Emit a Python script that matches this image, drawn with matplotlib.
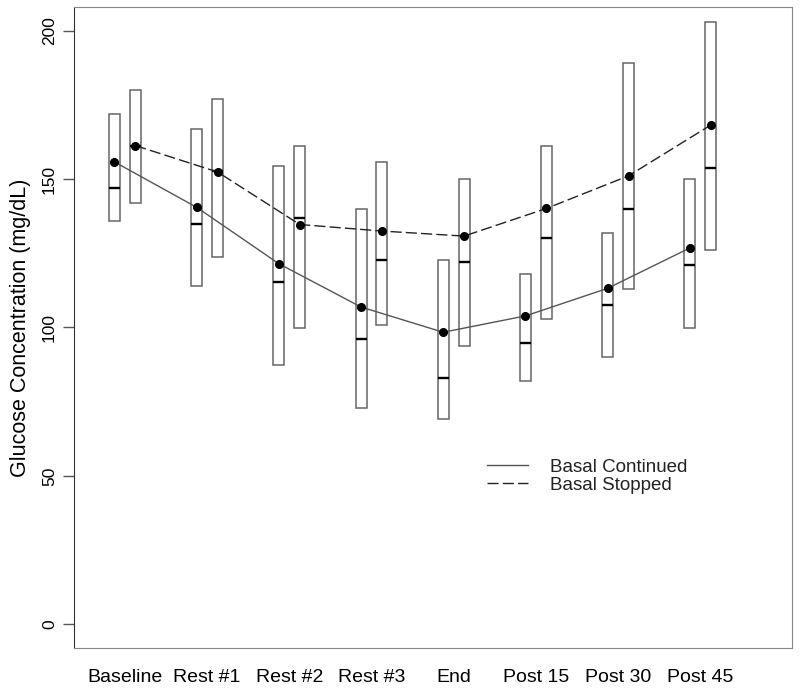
import numpy as np
import matplotlib
matplotlib.use("Agg")
import matplotlib.pyplot as plt

plt.rcParams['font.family'] = ['Liberation Sans', 'DejaVu Sans']

timepoints = ["Baseline", "Rest #1", "Rest #2", "Rest #3", "End", "Post 15", "Post 30", "Post 45"]

# basal continued
cont_high = [172.0, 167.0, 154.5, 140.0, 122.8, 118.0, 132.0, 150.0]
cont_low = [135.9, 114.1, 87.4, 73.0, 69.1, 82.0, 89.9, 99.9]
cont_median = [147.1, 135.0, 115.4, 96.1, 82.9, 94.9, 107.5, 121.0]
cont_mean = [155.8, 140.5, 121.5, 106.9, 98.4, 103.9, 113.2, 126.8]

# basal stopped
stop_high = [179.9, 177.0, 161.0, 155.9, 150.0, 161.0, 189.0, 203.0]
stop_low = [141.9, 123.9, 99.9, 100.9, 93.9, 102.9, 112.9, 126.0]
stop_median = [161.0, 152.9, 137.0, 122.9, 122.0, 130.0, 139.9, 153.9]
stop_mean = [161.3, 152.4, 134.7, 132.5, 130.8, 140.1, 151.1, 168.2]

x = np.arange(1, len(timepoints) + 1)
off = 0.127
bw = 0.134

fig = plt.figure(figsize=(8, 6.91), dpi=100)
ax = fig.add_axes([0.0921, 0.0622, 0.99 - 0.0921, 0.9899 - 0.0622])

def draw_group(pos, low, high, med, mean, ls, col, lab):
    low = np.array(low)
    high = np.array(high)
    ax.bar(pos, high - low, width=bw, bottom=low, fill=False,
           edgecolor='#666666', linewidth=1.1, zorder=2)
    ax.hlines(med, pos - bw / 2, pos + bw / 2, colors='black', linewidth=1.7, zorder=3)
    ax.plot(pos, mean, linestyle=ls, color=col, linewidth=1, label=lab, zorder=3)
    ax.plot(pos, mean, 'o', color='black', markersize=5.5, zorder=4)

draw_group(x - off, cont_low, cont_high, cont_median, cont_mean, '-', '#555555', 'Basal Continued')
draw_group(x + off, stop_low, stop_high, stop_median, stop_mean, (0, (8, 3)), '#222222', 'Basal Stopped')

ax.set_xlim(0.377, 9.116)
ax.set_ylim(-8, 208)
ax.set_xticks(x)
ax.set_xticklabels(timepoints, fontsize=14)
ax.tick_params(axis='x', length=0, pad=15)
ax.set_yticks([0, 50, 100, 150, 200])
ax.set_yticklabels(['0', '50', '100', '150', '200'], rotation=90, va='center', fontsize=12.5)
ax.tick_params(axis='y', length=8, width=1, color='#555555', pad=4)
ax.set_ylabel("Glucose Concentration (mg/dL)", fontsize=15.5, labelpad=8)

for s in ['top', 'right', 'bottom']:
    ax.spines[s].set_color('#888888')
ax.spines['left'].set_color('#333333')

leg = ax.legend(loc='upper left', bbox_to_anchor=(0.609, 0.336), bbox_transform=fig.transFigure,
                frameon=False, fontsize=13.5, handlelength=2.2, handletextpad=1.17,
                labelspacing=0.05, borderpad=0, borderaxespad=0)
for t in leg.get_texts():
    t.set_color('#222222')

fig.savefig("out.png", dpi=100)
